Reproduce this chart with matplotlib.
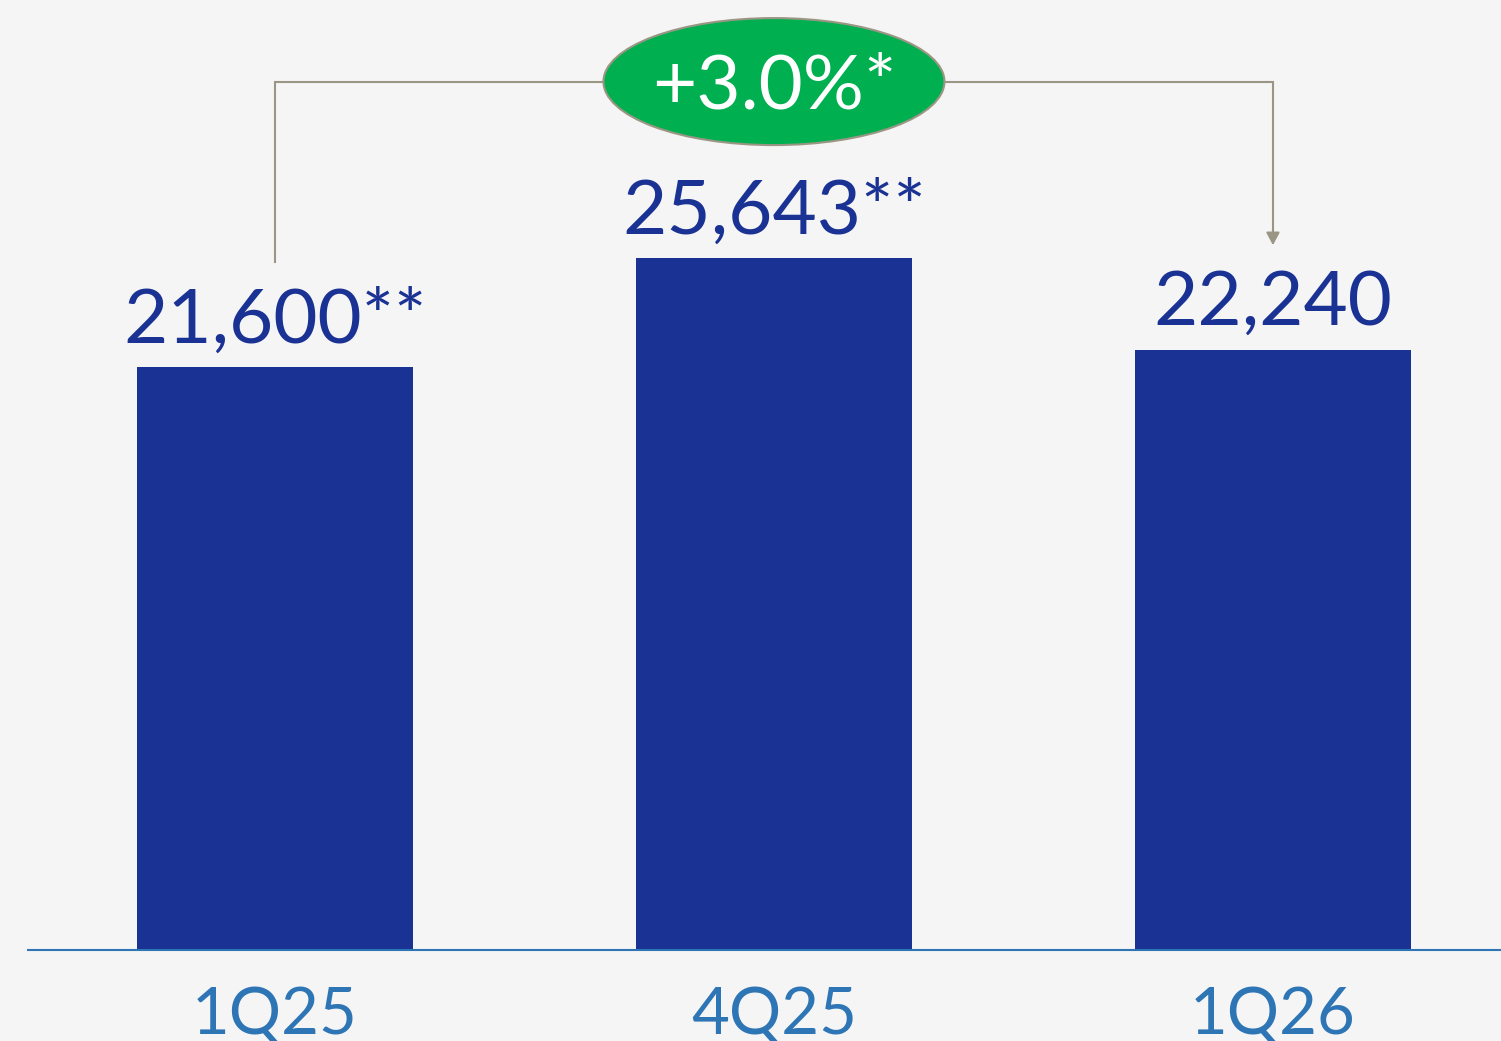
import matplotlib
matplotlib.use("Agg")
import matplotlib.pyplot as plt
from matplotlib.patches import Ellipse

# Quarterly values
quarters = ["1Q25", "4Q25", "1Q26"]
values = [21600, 25643, 22240]
value_labels = ["21,600**", "25,643**", "22,240"]
growth_label = "+3.0%*"

BG = "#f5f5f5"
BAR = "#1a3293"
TICK = "#2e75b6"
BRACKET = "#9a9683"
GREEN = "#00b050"
FONT = "Lato"
WEIGHT = "normal"

W, H, DPI = 1501, 1041, 100
fig = plt.figure(figsize=(W / DPI, H / DPI), dpi=DPI, facecolor=BG)

base_px = 91             # baseline height above the figure bottom (px)
plot_h_px = H - base_px
ymax = 35225
ax = fig.add_axes([0, base_px / H, 1, plot_h_px / H])
ax.set_facecolor(BG)
ax.set_xlim(-0.551, 2.457)
ax.set_ylim(0, ymax)
ax.axis("off")

px = ymax / plot_h_px    # data units per vertical pixel

x = list(range(len(quarters)))
ax.bar(x, values, width=0.553, color=BAR, zorder=2)

# baseline
ax.plot([-0.497, 2.457], [0, 0], color=TICK, lw=1.5, solid_capstyle="butt",
        clip_on=False, zorder=3)

# value labels above bars
for xi, v, lab in zip(x, values, value_labels):
    ax.text(xi, v + 25 * px, lab, ha="center", va="baseline",
            fontsize=55, color=BAR, family=FONT, weight=WEIGHT)

# category labels below the baseline
for xi, q in zip(x, quarters):
    ax.text(xi, -84 * px, q, ha="center", va="baseline",
            fontsize=47, color=TICK, family=FONT, weight=WEIGHT, clip_on=False)

# growth bracket from first to last quarter
y_top = 32200
y_start = values[0] + 105 * px
y_end = values[-1] + 105 * px
ax.plot([x[0], x[0], x[-1], x[-1]], [y_start, y_top, y_top, y_end + 12 * px],
        color=BRACKET, lw=1.5, solid_joinstyle="miter", zorder=3)
ax.annotate("", xy=(x[-1], y_end), xytext=(x[-1], y_end + 16 * px),
            arrowprops=dict(arrowstyle="-|>,head_length=0.75,head_width=0.4",
                            color=BRACKET, lw=1.5, shrinkA=0, shrinkB=0))

# growth badge
ell = Ellipse((1.0, y_top), width=341 / 499, height=127 * px,
              facecolor=GREEN, edgecolor=BRACKET, lw=1.5, zorder=4)
ax.add_patch(ell)
ax.text(1.0, y_top - 27 * px, growth_label, ha="center", va="baseline",
        fontsize=55, color="white", family=FONT, weight=WEIGHT, zorder=5)

fig.savefig("out.png", dpi=DPI, facecolor=BG)
